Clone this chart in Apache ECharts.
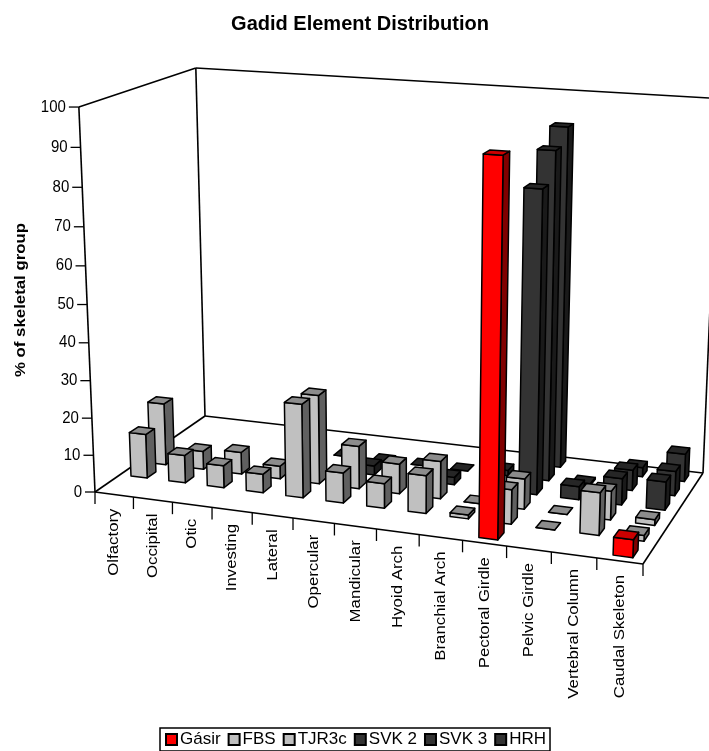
<!DOCTYPE html>
<html>
<head>
<meta charset="utf-8">
<title>Gadid Element Distribution</title>
<style>
  html, body { margin: 0; padding: 0; background: #fff; }
  #chart { width: 709px; height: 751px; }
</style>
<script src="https://cdn.jsdelivr.net/npm/echarts@6/dist/echarts.min.js"></script>
</head>
<body>
<div id="chart"></div>
<script>
const categories = ['Olfactory', 'Occipital', 'Otic', 'Investing', 'Lateral', 'Opercular', 'Mandicular',
    'Hyoid Arch', 'Branchial Arch', 'Pectoral Girdle', 'Pelvic Girdle', 'Vertebral Column', 'Caudal Skeleton'];
const valueTicks = [0, 10, 20, 30, 40, 50, 60, 70, 80, 90, 100];

// null = no bar, 0 = flat bar on the floor
const gasir = [null, null, null, null, null, null, null, null, null, 94, null, null, 4.5];
const fbs = [12, 7.5, 6, 5, 25, 8, 6.5, 10, 1, 9, 0, 11, 1.5];
const tjr3c = [17, 5, 6, 3.5, 24, 11.5, 8, 10, 0, 8, 0, 7.5, 1.5];
const svk2 = [null, null, null, null, null, 2.5, null, 2, null, 79.5, 3.5, 7, 7.5];
const svk3 = [null, null, null, null, 0, 0, 0, 0, 1.5, 87, 0.5, 5.5, 6.5];
const hrh = [null, null, null, null, null, null, null, null, null, 91, null, 2.5, 7.5];

const RED = { front: '#ff0000', top: '#cc0000', side: '#800000' };
const LIGHT = { front: '#c0c0c0', top: '#8c8c8c', side: '#606060' };
const DARK = { front: '#333333', top: '#262626', side: '#1a1a1a' };

const rows = [
    { name: 'Gásir', values: gasir, colors: RED },
    { name: 'FBS', values: fbs, colors: LIGHT },
    { name: 'TJR3c', values: tjr3c, colors: LIGHT },
    { name: 'SVK 2', values: svk2, colors: DARK },
    { name: 'SVK 3', values: svk3, colors: DARK },
    { name: 'HRH', values: hrh, colors: DARK }
];

// corners of the floor on screen, used to set up the perspective
const FL = [95, 492], FR = [643, 564], BL = [205, 416], BR = [703, 473];
const VP = [397, 7700], VK = -0.0507;
const BACK_TOP_RIGHT = [709, 98];
const BAR_WIDTH = 0.43, BAR_DEPTH = 0.46;
const FONT = 'Liberation Sans, Arial, sans-serif';

const dx1 = FR[0] - BR[0], dy1 = FR[1] - BR[1], dx2 = BL[0] - BR[0], dy2 = BL[1] - BR[1];
const sx = FL[0] - FR[0] + BR[0] - BL[0], sy = FL[1] - FR[1] + BR[1] - BL[1];
const den = dx1 * dy2 - dx2 * dy1;
const g = (sx * dy2 - dx2 * sy) / den, h = (dx1 * sy - sx * dy1) / den;
const a = FR[0] - FL[0] + g * FR[0], b = BL[0] - FL[0] + h * BL[0];
const d = FR[1] - FL[1] + g * FR[1], e = BL[1] - FL[1] + h * BL[1];

// u along categories, v into the depth, w up, all 0..1
function project(u, v, w) {
    const q = g * u + h * v + 1 + VK * w;
    return [(a * u + b * v + FL[0] + VK * VP[0] * w) / q, (d * u + e * v + FL[1] + VK * VP[1] * w) / q];
}

function poly(points, fill) {
    return {
        type: 'polygon',
        shape: { points: points },
        style: { fill: fill, stroke: '#000', lineWidth: 1.5, lineJoin: 'round' }
    };
}

function line(p, q, width) {
    return {
        type: 'line',
        shape: { x1: p[0], y1: p[1], x2: q[0], y2: q[1] },
        style: { stroke: '#000', lineWidth: width }
    };
}

function barItem(rowIndex, params, api) {
    if (isNaN(api.value(1))) return;
    const cs = params.coordSys;
    const pt = api.coord([api.value(0), api.value(1)]);
    const halfW = api.size([1, 0])[0] / cs.width * BAR_WIDTH / 2;
    const uc = (pt[0] - cs.x) / cs.width;
    const w = (cs.y + cs.height - pt[1]) / cs.height;
    const u0 = uc - halfW, u1 = uc + halfW;
    const v0 = (rowIndex + 0.5 - BAR_DEPTH / 2) / rows.length;
    const v1 = (rowIndex + 0.5 + BAR_DEPTH / 2) / rows.length;
    const c = rows[rowIndex].colors;
    return {
        type: 'group',
        children: [
            poly([project(u1, v0, 0), project(u1, v1, 0), project(u1, v1, w), project(u1, v0, w)], c.side),
            poly([project(u0, v0, 0), project(u1, v0, 0), project(u1, v0, w), project(u0, v0, w)], c.front),
            poly([project(u0, v0, w), project(u1, v0, w), project(u1, v1, w), project(u0, v1, w)], c.top)
        ]
    };
}

// walls, floor edge, ticks and tick labels
function frameItem(params, api) {
    if (params.dataIndex !== 0) return;
    const cs = params.coordSys;
    const children = [
        line(project(0, 0, 0), project(1, 0, 0), 1.6),
        line(project(1, 0, 0), project(1, 1, 0), 1.6),
        line(project(0, 0, 0), project(0, 1, 0), 1.6),
        line(project(0, 1, 0), project(1, 1, 0), 1.6),
        line(project(0, 0, 0), project(0, 0, 1), 1.6),
        line(project(0, 1, 0), project(0, 1, 1), 1.6),
        line(project(1, 1, 0), project(1, 1, 1), 1.6),
        line(project(0, 0, 1), project(0, 1, 1), 1.6),
        line(project(0, 1, 1), BACK_TOP_RIGHT, 1.6)
    ];
    valueTicks.forEach(function (t) {
        const w = (cs.y + cs.height - api.coord([0, t])[1]) / cs.height;
        const p = project(0, 0, w);
        children.push(line([p[0] - 10, p[1]], p, 1.3));
        children.push({
            type: 'text',
            x: p[0] - 13, y: p[1],
            scaleY: 1.1,
            style: {
                x: 0, y: 0, text: String(t), align: 'right', verticalAlign: 'middle',
                font: '15px ' + FONT, fill: '#000'
            }
        });
    });
    categories.forEach(function (name, i) {
        const p = project(i / categories.length, 0, 0);
        children.push(line(p, [p[0], p[1] + 12], 1.3));
        const uc = (api.coord([i, 0])[0] - cs.x) / cs.width;
        const c = project(uc, 0, 0);
        children.push({
            type: 'text',
            x: c[0], y: c[1] + 14,
            rotation: Math.PI / 2,
            scaleX: 1.12,
            style: {
                x: 0, y: 0, text: name, align: 'right', verticalAlign: 'middle',
                font: '15px ' + FONT, fill: '#000'
            }
        });
    });
    const last = project(1, 0, 0);
    children.push(line(last, [last[0], last[1] + 12], 1.3));
    return { type: 'group', children: children };
}

const series = [{
    type: 'custom',
    name: 'frame',
    z: 1,
    silent: true,
    renderItem: frameItem,
    data: [[0, 0]],
    encode: { x: 0, y: 1 }
}];

rows.forEach(function (row, r) {
    series.push({
        type: 'custom',
        name: row.name,
        z: 12 - r,
        silent: true,
        itemStyle: { color: row.colors.front, borderColor: '#000', borderWidth: 1.3 },
        renderItem: barItem.bind(null, r),
        data: row.values.map(function (v, i) { return [i, v]; }),
        encode: { x: 0, y: 1 }
    });
});

const chart = echarts.init(document.getElementById('chart'));
chart.setOption({
    animation: false,
    title: {
        text: 'Gadid Element Distribution',
        left: 355, top: 9, textAlign: 'center',
        textStyle: { fontFamily: FONT, fontSize: 20, fontWeight: 'bold', color: '#000' }
    },
    grid: { left: 100, top: 100, width: 500, height: 400, show: false },
    xAxis: { type: 'category', data: categories, show: false },
    yAxis: { type: 'value', min: 0, max: 100, interval: 10, show: false },
    legend: {
        data: rows.map(function (r) { return r.name; }),
        left: 160, top: 728,
        padding: [3, 4, 3, 5],
        itemGap: 7, itemWidth: 11, itemHeight: 11,
        icon: 'rect',
        borderColor: '#000', borderWidth: 1.5,
        selectedMode: false,
        textStyle: { fontFamily: FONT, fontSize: 17, color: '#000', padding: [0, 0, 0, -2] }
    },
    graphic: [{
        type: 'text',
        x: 21, y: 300,
        rotation: Math.PI / 2,
        scaleX: 1.12,
        style: {
            x: 0, y: 0, text: '% of skeletal group', align: 'center', verticalAlign: 'middle',
            font: 'bold 15px ' + FONT, fill: '#000'
        }
    }],
    series: series
});
</script>
</body>
</html>
